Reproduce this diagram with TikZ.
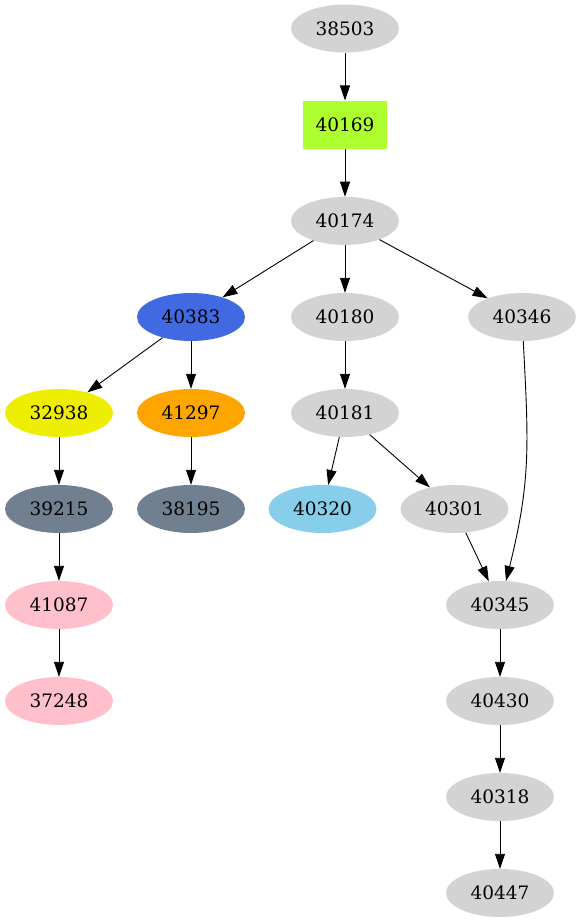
\documentclass[tikz,border=0pt]{standalone}
\usepackage{fontspec}
\setmainfont{DejaVu Serif}
\usepackage{tikz}
\usetikzlibrary{arrows.meta,positioning,shapes.geometric}
\definecolor{gvGray}{HTML}{D3D3D3}
\definecolor{gvGreen}{HTML}{ADFF2F}
\definecolor{gvBlue}{HTML}{4169E1}
\definecolor{gvYellow}{HTML}{EEEE00}
\definecolor{gvOrange}{HTML}{FFA500}
\definecolor{gvSlate}{HTML}{708090}
\definecolor{gvSky}{HTML}{87CEEB}
\definecolor{gvPink}{HTML}{FFC0CB}
\tikzset{
  gvNode/.style={ellipse, fill=gvGray, draw=none, inner sep=0pt,
    minimum width=108pt, minimum height=48pt,
    font=\fontsize{18.5}{22}\selectfont},
  gvBox/.style={rectangle, fill=gvGreen, draw=none, inner sep=0pt,
    minimum width=84pt, minimum height=48pt,
    font=\fontsize{18.5}{22}\selectfont},
  %% Edges
  gvEdge/.style={-{Triangle[length=15pt, width=10pt]}, line width=0.9pt},
}

\begin{document}
\begin{tikzpicture}[x=1pt, y=1pt]
\useasboundingbox (0,0) rectangle (582,-923);
%% Nodes
\node[gvNode]                 (n38503) at (345,-28.5) {38503};
\node[gvBox]                  (n40169) at (345,-124.7) {40169};
\node[gvNode]                 (n40174) at (345,-220.9) {40174};
\node[gvNode, fill=gvBlue]    (n40383) at (191,-317) {40383};
\node[gvNode]                 (n40180) at (345,-317) {40180};
\node[gvNode]                 (n40346) at (522,-317) {40346};
\node[gvNode, fill=gvYellow]  (n32938) at (59,-413) {32938};
\node[gvNode, fill=gvOrange]  (n41297) at (191,-413) {41297};
\node[gvNode]                 (n40181) at (345,-413) {40181};
\node[gvNode, fill=gvSlate]   (n39215) at (59,-509) {39215};
\node[gvNode, fill=gvSlate]   (n38195) at (191,-509) {38195};
\node[gvNode, fill=gvSky]     (n40320) at (322.5,-509) {40320};
\node[gvNode]                 (n40301) at (454.5,-509) {40301};
\node[gvNode, fill=gvPink]    (n41087) at (59,-605) {41087};
\node[gvNode]                 (n40345) at (500,-605) {40345};
\node[gvNode, fill=gvPink]    (n37248) at (59,-701) {37248};
\node[gvNode]                 (n40430) at (500,-701) {40430};
\node[gvNode]                 (n40318) at (500,-797) {40318};
\node[gvNode]                 (n40447) at (500,-893) {40447};

%% Edges
\foreach \a/\b in {n38503/n40169, n40169/n40174, n40174/n40383, n40174/n40180,
  n40174/n40346, n40383/n32938, n40383/n41297, n40180/n40181, n32938/n39215,
  n41297/n38195, n40181/n40320, n40181/n40301, n39215/n41087, n41087/n37248,
  n40301/n40345, n40345/n40430, n40430/n40318, n40318/n40447}
  \draw[gvEdge] (\a) -- (\b);
\draw[gvEdge] (n40346) to[out=-87, in=76, looseness=1.1] (n40345);

\end{tikzpicture}
\end{document}
